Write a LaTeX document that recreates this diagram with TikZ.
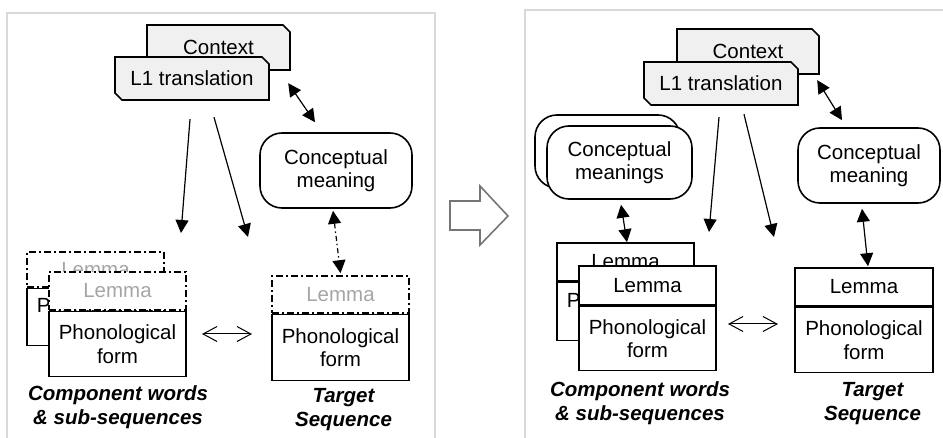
\documentclass[tikz,border=0pt]{standalone}
\usepackage{fontspec}
\setmainfont{Liberation Sans}
\usetikzlibrary{arrows.meta,calc}
\definecolor{framegray}{HTML}{D9D9D9}
\definecolor{boxfill}{HTML}{F0F0F0}
\definecolor{lemgray}{HTML}{A6A6A6}
\definecolor{bigarrow}{HTML}{767676}
\newcommand{\chambox}[6]{%
  \path[chamshape] ({#2-#4/2},{#3-#5/2}) -- ({#2+#4/2-7},{#3-#5/2}) -- ({#2+#4/2},{#3-#5/2+7})
    -- ({#2+#4/2},{#3+#5/2}) -- ({#2-#4/2+7},{#3+#5/2}) -- ({#2-#4/2},{#3+#5/2-7}) -- cycle;
  \node[txt,minimum width=#4pt,minimum height=#5pt,inner sep=0pt] (#1) at (#2,#3) {#6};}
\begin{document}
\begin{tikzpicture}[x=1pt,y=-1pt,
  txt/.style={font=\fontsize{20.5}{23.5}\selectfont, align=center},
  lbl/.style={font=\fontsize{20.5}{24}\selectfont\bfseries\itshape, align=center},
  chamshape/.style={draw=black, line width=1.6pt, fill=boxfill},
  roundbox/.style={txt, draw, line width=1.6pt, rounded corners=22pt, fill=white, inner sep=0pt},
  lemdash/.style={txt, draw, line width=1.6pt, dash pattern=on 7pt off 3pt on 2pt off 3pt, fill=white, text=lemgray, inner sep=0pt},
  lemsolid/.style={txt, draw, line width=1.6pt, fill=white, inner sep=0pt},
  phonbox/.style={txt, draw, line width=1.6pt, fill=white, inner sep=0pt, anchor=north},
  arr/.style={line width=1.2pt, -{Triangle[length=13pt,width=13pt]}},
  darr/.style={line width=1.2pt, {Triangle[length=13pt,width=13pt]}-{Triangle[length=13pt,width=13pt]}},
  ddarr/.style={darr, dash pattern=on 5pt off 3pt on 1.5pt off 3pt},
  openarr/.style={line width=1pt, {Straight Barb[length=14pt,width=15pt]}-{Straight Barb[length=14pt,width=15pt]}},
  framepath/.style={draw=framegray, line width=2pt},
]
\useasboundingbox (0,0) rectangle (943,438);

% panel frames
\draw[framepath] (7,440) -- (7,13) -- (435,13) -- (435,440);
\draw[framepath] (525,440) -- (525,10) -- (945,10);

% middle arrow
\draw[draw=bigarrow, line width=1.6pt, line join=miter]
  (450,201) -- (480,201) -- (480,186) -- (508,216) -- (480,245) -- (480,230) -- (450,230) -- cycle;

% ===== left panel =====
\chambox{ctxL}{218.5}{47.5}{143}{45}{Context}
\chambox{l1L}{192}{78.5}{154}{43}{L1 translation}
\node[roundbox, minimum width=152pt, minimum height=75pt] (cmL) at (336,170.5) {Conceptual\\meaning};

% back stack
\node[lemdash, minimum width=137pt, minimum height=35pt] (lemLb) at (95.5,269.5) {Lemma};
\node[phonbox, minimum width=137pt, minimum height=57pt] (phLb) at (lemLb.south) {Phonological\\form};
% front stack
\node[lemdash, minimum width=137pt, minimum height=38pt] (lemLf) at (117.5,291) {Lemma};
\node[phonbox, minimum width=137pt, minimum height=65pt] (phLf) at (lemLf.south) {Phonological\\form};
% target
\node[lemdash, minimum width=137pt, minimum height=37pt] (tlemL) at (340.5,294.5) {Lemma};
\node[phonbox, minimum width=137pt, minimum height=66pt] (tphL) at (tlemL.south) {Phonological\\form};

\node[lbl] (cwL) at (118,407) {Component words\\\& sub-sequences};
\node[lbl] (tsL) at (343.5,410) {Target\\Sequence};

\coordinate (e1L) at (181,233);
\coordinate (e2L) at (248,237);
\coordinate (o1L) at (202,334);
\coordinate (o2L) at (252,334);
\draw[darr] ($(ctxL.south east)+(-2,13)$) -- ($(cmL.north)+(-21,-10)$);
\draw[arr] ($(l1L.south)+(-2,19)$) -- (e1L);
\draw[arr] ($(l1L.south)+(22,17)$) -- (e2L);
\draw[ddarr] ($(cmL.south)+(-3,2)$) -- ($(tlemL.north)+(0,-2)$);
\draw[openarr] (o1L) -- (o2L);

% ===== right panel =====
\chambox{ctxR}{748}{51.5}{142}{45}{Context}
\chambox{l1R}{721}{83.5}{154}{43}{L1 translation}
\node[roundbox, minimum width=145pt, minimum height=73pt] (cmsRb) at (607.5,151.5) {};
\node[roundbox, minimum width=145pt, minimum height=73pt] (cmsR) at (619.5,162.5) {Conceptual\\meanings};
\node[roundbox, minimum width=142pt, minimum height=75pt] (cmR) at (869,165.5) {Conceptual\\meaning};

\node[lemsolid, minimum width=137pt, minimum height=38pt] (lemRb) at (625.5,262) {Lemma};
\node[phonbox, minimum width=137pt, minimum height=58pt] (phRb) at (lemRb.south) {Phonological\\form};
\node[lemsolid, minimum width=137pt, minimum height=39pt] (lemRf) at (647.5,285.5) {Lemma};
\node[phonbox, minimum width=137pt, minimum height=64pt] (phRf) at (lemRf.south) {Phonological\\form};
\node[lemsolid, minimum width=138pt, minimum height=38pt] (tlemR) at (864,287) {Lemma};
\node[phonbox, minimum width=138pt, minimum height=65pt] (tphR) at (tlemR.south) {Phonological\\form};

\node[lbl] (cwR) at (640,403) {Component words\\\& sub-sequences};
\node[lbl] (tsR) at (872.5,403.5) {Target\\Sequence};

\coordinate (e1R) at (709,232);
\coordinate (e2R) at (774,237);
\coordinate (o1R) at (728,324);
\coordinate (o2R) at (778,324);
\draw[darr] ($(ctxR.south east)+(-2,6)$) -- ($(cmR.north)+(-27,-7)$);
\draw[arr] ($(l1R.south)+(-2,12)$) -- (e1R);
\draw[arr] ($(l1R.south)+(23,9)$) -- (e2R);
\draw[darr] ($(cmsR.south)+(1.5,5)$) -- ($(lemRb.north)+(1.5,0)$);
\draw[darr] ($(cmR.south)+(-7,5)$) -- ($(tlemR.north)+(4,-1)$);
\draw[openarr] (o1R) -- (o2R);
\end{tikzpicture}
\end{document}
